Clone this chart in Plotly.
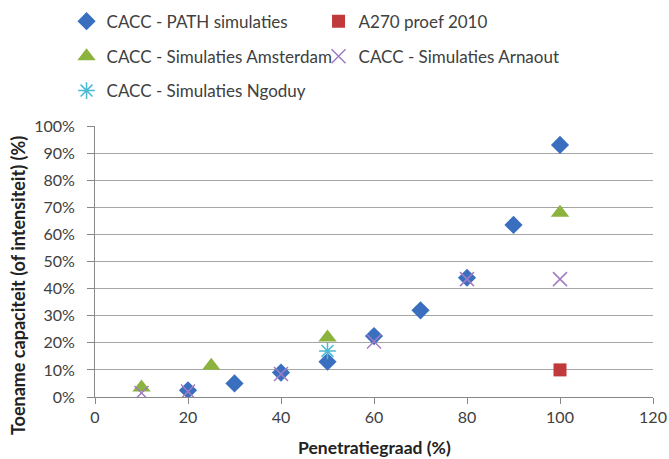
import plotly.graph_objects as go

path_x = [20, 30, 40, 50, 60, 70, 80, 90, 100]
path_y = [2.5, 5, 9, 13, 22.5, 32, 44, 63.5, 93]
a270_x = [100]
a270_y = [10]
ams_x = [10, 25, 50, 100]
ams_y = [3.5, 11.5, 22, 68]
arn_x = [10, 20, 40, 60, 80, 100]
arn_y = [1.5, 2, 8.5, 20.5, 43.5, 43.5]
ngo_x = [50]
ngo_y = [17]
y_ticks = list(range(0, 101, 10))
y_ticktext = [f"{v}%" for v in y_ticks]
x_ticks = [0, 20, 40, 60, 80, 100, 120]

FONT = "Lato"
TXT = "#404040"
fig = go.Figure()
fig.add_trace(go.Scatter(x=path_x, y=path_y, mode="markers", name="CACC - PATH simulaties",
                         marker=dict(symbol="diamond", size=14, color="#3a6fc0"), legend="legend"))
fig.add_trace(go.Scatter(x=a270_x, y=a270_y, mode="markers", name="A270 proef 2010",
                         marker=dict(symbol="square", size=13, color="#c0393b"), legend="legend"))
fig.add_trace(go.Scatter(x=ams_x, y=ams_y, mode="markers", name="CACC - Simulaties Amsterdam",
                         marker=dict(symbol="triangle-up", size=16, color="#8db33f"), legend="legend2"))
fig.add_trace(go.Scatter(x=arn_x, y=arn_y, mode="markers", name="CACC - Simulaties Arnaout",
                         marker=dict(symbol="x-thin-open", size=14, color="#a07cc5", line=dict(width=1.5, color="#a07cc5")), legend="legend2"))
fig.add_trace(go.Scatter(x=ngo_x, y=ngo_y, mode="markers", name="CACC - Simulaties Ngoduy",
                         marker=dict(symbol="asterisk-open", size=14, color="#4bb8d4", line=dict(width=1.5, color="#4bb8d4")), legend="legend3"))

leg = dict(orientation="h", x=-0.051, xanchor="left", yanchor="middle",
           font=dict(family=FONT, size=17, color=TXT), entrywidth=207, entrywidthmode="pixels",
           itemwidth=30, bgcolor="rgba(0,0,0,0)")
fig.update_layout(
    width=669, height=459,
    margin=dict(l=95, r=16, t=126, b=62, autoexpand=False),
    plot_bgcolor="white", paper_bgcolor="white",
    font=dict(family=FONT, size=16, color=TXT),
    legend=dict(leg, y=1.385),
    legend2=dict(leg, y=1.256),
    legend3=dict(leg, y=1.129),
    xaxis=dict(range=[0, 120], tickvals=x_ticks, showgrid=False, zeroline=False,
               showline=True, linecolor="#888", linewidth=1, ticks="outside", ticklen=6, tickcolor="#888",
               tickfont=dict(family=FONT, size=16, color=TXT)),
    yaxis=dict(range=[0, 100], tickvals=y_ticks, ticktext=y_ticktext, showgrid=True,
               gridcolor="#a6a6a6", gridwidth=1, zeroline=False, showline=True, linecolor="#888", linewidth=1,
               ticks="outside", ticklen=7, tickcolor="#888", ticklabelstandoff=9,
               tickfont=dict(family=FONT, size=16, color=TXT)),
    annotations=[
        dict(text="<b>Penetratiegraad (%)</b>", xref="paper", yref="paper", x=0.5, y=-0.186,
             xanchor="center", yanchor="middle", showarrow=False,
             font=dict(family=FONT, size=17.5, color="#222")),
        dict(text="<b>Toename capaciteit (of intensiteit) (%)</b>", xref="paper", yref="paper",
             x=-0.138, y=0.413, xanchor="center", yanchor="middle", textangle=-90, showarrow=False,
             font=dict(family=FONT, size=18, color="#222")),
    ],
)
fig.write_html("out.html", config={"displayModeBar": False},
               post_script="document.body.style.margin='0';document.documentElement.style.overflow='hidden';")
